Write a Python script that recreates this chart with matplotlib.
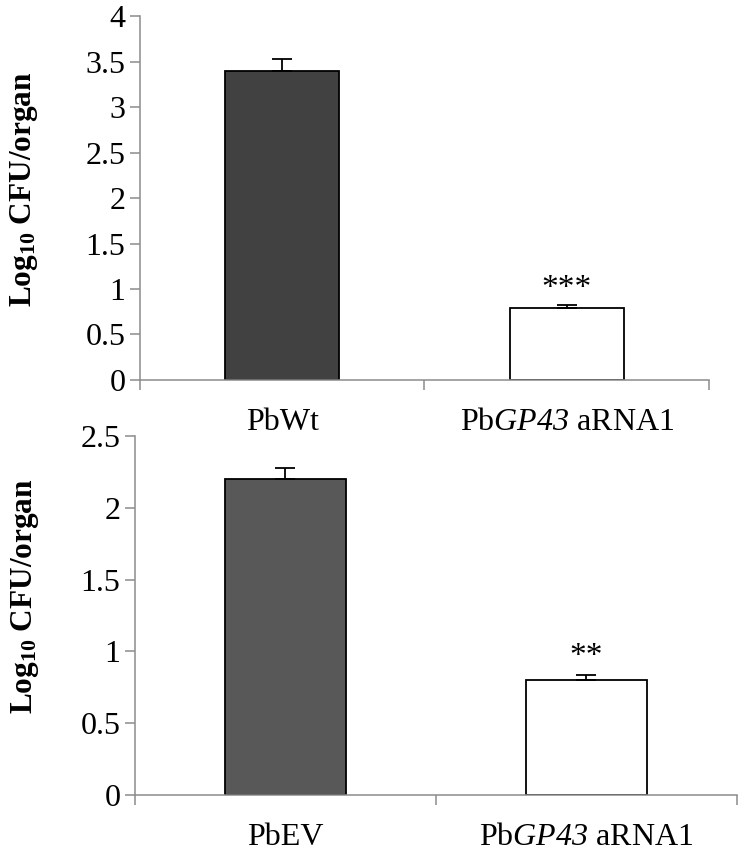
import numpy as np
import matplotlib.pyplot as plt
from matplotlib.ticker import FixedLocator, NullFormatter, FixedFormatter

plt.rcParams['font.family'] = ['Liberation Serif', 'DejaVu Serif']
plt.rcParams['mathtext.fontset'] = 'custom'
# digits in mathtext come from the rm slot, so make it italic for "GP43"
plt.rcParams['mathtext.rm'] = 'Liberation Serif:italic'
plt.rcParams['mathtext.it'] = 'Liberation Serif:italic'
plt.rcParams['mathtext.bf'] = 'Liberation Serif:bold'

# panel A
cats_top = ['PbWt', r'Pb$\mathrm{GP43}$ aRNA1']
vals_top = [3.40, 0.79]
errs_top = [0.13, 0.03]
colors_top = ['#414141', '#ffffff']
stars_top = ['', '***']
yticks_top = [0, 0.5, 1, 1.5, 2, 2.5, 3, 3.5, 4]
ytlabels_top = ['0', '0.5', '1', '1.5', '2', '2.5', '3', '3.5', '4']

# panel B
cats_bot = ['PbEV', r'Pb$\mathrm{GP43}$ aRNA1']
vals_bot = [2.20, 0.80]
errs_bot = [0.08, 0.035]
colors_bot = ['#585858', '#ffffff']
stars_bot = ['', '**']
yticks_bot = [0, 0.5, 1, 1.5, 2, 2.5]
ytlabels_bot = ['0', '0.5', '1', '1.5', '2', '2.5']

ylabel = r'Log$_{\mathbf{10}}$ CFU/organ'
axis_col = '#8c8c8c'
fs = 23

fig = plt.figure(figsize=(7.47, 8.57), dpi=100)
ax1 = fig.add_axes([0.1874, 0.5566, 0.7617, 0.4247])
ax2 = fig.add_axes([0.1807, 0.0723, 0.8059, 0.4189])


def panel(ax, cats, vals, errs, colors, stars, yticks, ytlabels, label_xy, star_off):
    x = np.arange(len(cats))
    ax.bar(x, vals, width=0.4, color=colors, edgecolor='black', linewidth=1.3, zorder=2)
    ax.errorbar(x, vals, yerr=[np.zeros(len(errs)), errs], fmt='none',
                ecolor='black', elinewidth=1.3, capsize=7, capthick=1.3, zorder=3)
    for xi, v, e, s in zip(x, vals, errs, stars):
        if s:
            ax.annotate(s, (xi, v + e), xytext=(0, star_off), textcoords='offset points',
                        ha='center', va='center', fontsize=fs + 1)
    ax.set_xlim(-0.5, len(cats) - 0.5)
    ax.set_ylim(yticks[0], yticks[-1])
    ax.set_yticks(yticks)
    ax.set_yticklabels(ytlabels)
    # category boundaries as major ticks, names on minor ticks
    ax.xaxis.set_major_locator(FixedLocator(np.arange(len(cats) + 1) - 0.5))
    ax.xaxis.set_major_formatter(NullFormatter())
    ax.xaxis.set_minor_locator(FixedLocator(x))
    ax.xaxis.set_minor_formatter(FixedFormatter(cats))
    ax.tick_params(axis='x', which='minor', length=0, pad=20, labelsize=fs)
    ax.tick_params(axis='both', which='major', length=7, width=1.1, color=axis_col,
                   direction='out', labelsize=fs)
    for side in ['top', 'right']:
        ax.spines[side].set_visible(False)
    for side in ['left', 'bottom']:
        ax.spines[side].set_color(axis_col)
        ax.spines[side].set_linewidth(1.1)
    ax.set_ylabel(ylabel, fontsize=22.5, fontweight='bold')
    ax.yaxis.set_label_coords(*label_xy)


panel(ax1, cats_top, vals_top, errs_top, colors_top, stars_top, yticks_top, ytlabels_top,
      (-0.175, 0.525), 12)
panel(ax2, cats_bot, vals_bot, errs_bot, colors_bot, stars_bot, yticks_bot, ytlabels_bot,
      (-0.156, 0.554), 13)

fig.savefig('out.png', dpi=100)
